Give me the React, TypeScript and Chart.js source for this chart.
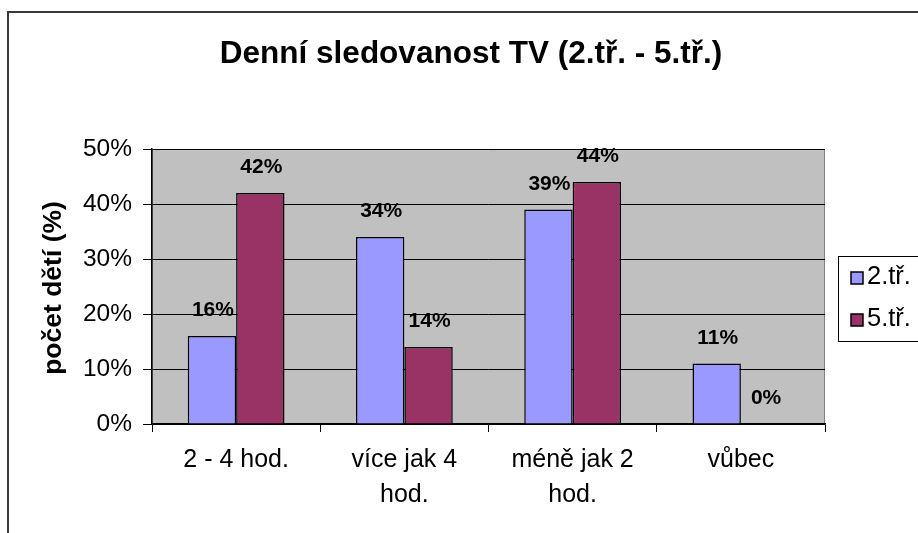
import React, { useEffect, useRef } from "react";
import { Chart, registerables } from "chart.js";

Chart.register(...registerables);

const titleText = "Denní sledovanost TV (2.tř. - 5.tř.)";
const yAxisTitle = "počet dětí (%)";
const categories: (string | string[])[] = [
  "2 - 4 hod.",
  ["více jak 4", "hod."],
  ["méně jak 2", "hod."],
  "vůbec",
];
const seriesNames = ["2.tř.", "5.tř."];
const series2 = [16, 34, 39, 11];
const series5 = [42, 14, 44, 0];
const seriesColors = ["#9999FF", "#993366"];
const yTicksMax = 50;
const yTickStep = 10;

const FONT = "'Liberation Sans', Arial, sans-serif";

const decorPlugin = {
  id: "decor",
  beforeDraw(chart: any) {
    const { ctx, chartArea } = chart;
    ctx.save();
    ctx.fillStyle = "#ffffff";
    ctx.fillRect(0, 0, chart.width, chart.height);
    // outer chart border
    ctx.fillStyle = "#3a3a3a";
    ctx.fillRect(7, 11, chart.width - 7, 2);
    ctx.fillRect(7, 11, 2, chart.height - 11);
    // plot area
    ctx.fillStyle = "#C0C0C0";
    ctx.fillRect(chartArea.left, chartArea.top, chartArea.right - chartArea.left, chartArea.bottom - chartArea.top);
    ctx.strokeStyle = "#808080";
    ctx.lineWidth = 1;
    ctx.strokeRect(chartArea.left + 0.5, chartArea.top + 0.5, chartArea.right - chartArea.left - 1, chartArea.bottom - chartArea.top - 1);
    ctx.restore();
  },
  afterDraw(chart: any) {
    const { ctx } = chart;
    ctx.save();
    // title
    ctx.fillStyle = "#000";
    ctx.font = `bold 31.5px ${FONT}`;
    ctx.textAlign = "center";
    ctx.textBaseline = "alphabetic";
    ctx.fillText(titleText, 471, 63);
    // y axis title
    ctx.save();
    ctx.translate(54, 288);
    ctx.rotate(-Math.PI / 2);
    ctx.font = `bold 26.5px ${FONT}`;
    ctx.textAlign = "center";
    ctx.textBaseline = "middle";
    ctx.fillText(yAxisTitle, 0, 0);
    ctx.restore();
    // legend
    ctx.strokeStyle = "#000";
    ctx.lineWidth = 1;
    ctx.strokeRect(838.5, 256.5, 200, 85);
    const rows = [278, 320];
    seriesNames.forEach((name, i) => {
      const y = rows[i];
      ctx.fillStyle = seriesColors[i];
      ctx.fillRect(851, y - 6, 12, 12);
      ctx.strokeStyle = "#000";
      ctx.lineWidth = 1.5;
      ctx.strokeRect(851, y - 6, 12, 12);
      ctx.fillStyle = "#000";
      ctx.font = `25.5px ${FONT}`;
      ctx.textAlign = "left";
      ctx.textBaseline = "alphabetic";
      ctx.fillText(name, 867, y + 6);
    });
    ctx.restore();
  },
  afterDatasetsDraw(chart: any) {
    const { ctx } = chart;
    ctx.save();
    ctx.fillStyle = "#000";
    ctx.font = `bold 21px ${FONT}`;
    ctx.textAlign = "center";
    ctx.textBaseline = "alphabetic";
    chart.data.datasets.forEach((ds: any, di: number) => {
      const meta = chart.getDatasetMeta(di);
      meta.data.forEach((el: any, i: number) => {
        ctx.fillText(`${ds.data[i]}%`, el.x + 1, el.y - 20);
      });
    });
    ctx.restore();
  },
};

export default function App() {
  const ref = useRef<HTMLCanvasElement>(null);
  useEffect(() => {
    if (!ref.current) return;
    const chart = new Chart(ref.current, {
      type: "bar",
      data: {
        labels: categories,
        datasets: [
          {
            label: seriesNames[0],
            data: series2,
            backgroundColor: seriesColors[0],
            borderColor: "#000",
            borderWidth: 1.5,
          },
          {
            label: seriesNames[1],
            data: series5,
            backgroundColor: seriesColors[1],
            borderColor: "#000",
            borderWidth: 1.5,
          },
        ],
      },
      options: {
        animation: false,
        responsive: false,
        maintainAspectRatio: false,
        layout: { padding: { left: 0, top: 149, right: 93, bottom: 0 } },
        datasets: { bar: { categoryPercentage: 0.575, barPercentage: 1 } },
        plugins: {
          legend: { display: false },
          title: { display: false },
          tooltip: { enabled: false },
        },
        scales: {
          x: {
            offset: true,
            grid: {
              offset: true,
              drawOnChartArea: false,
              drawTicks: true,
              tickLength: 8,
              color: "#000",
            },
            border: { display: true, color: "#000", width: 1.5 },
            ticks: {
              color: "#000",
              font: { family: FONT, size: 25, lineHeight: 1.4 },
              padding: 11,
              maxRotation: 0,
              autoSkip: false,
            },
            afterFit(scale: any) {
              scale.height = 109;
            },
          },
          y: {
            min: 0,
            max: yTicksMax,
            ticks: {
              stepSize: yTickStep,
              color: "#000",
              font: { family: FONT, size: 24.5 },
              padding: 11,
              callback: (v: any) => `${v}%`,
            },
            grid: {
              color: "#000",
              lineWidth: 1,
              drawTicks: true,
              tickLength: 9,
            },
            border: { display: true, color: "#000", width: 1.5 },
            afterFit(scale: any) {
              scale.width = 152;
            },
          },
        },
      },
      plugins: [decorPlugin],
    });
    return () => chart.destroy();
  }, []);
  return (
    <div style={{ position: "fixed", left: 0, top: 0, width: 918, height: 533 }}>
      <canvas ref={ref} width={918} height={533} style={{ width: 918, height: 533, display: "block" }} />
    </div>
  );
}
